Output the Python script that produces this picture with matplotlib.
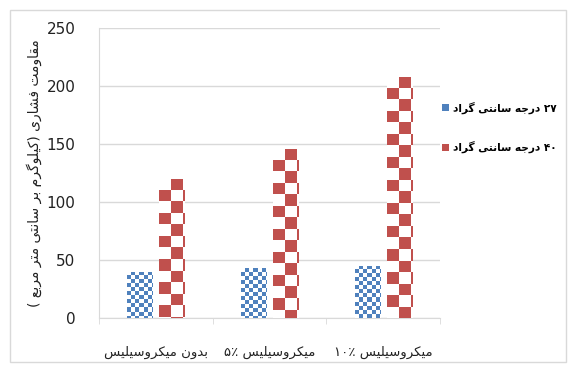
import re
import numpy as np
import matplotlib
matplotlib.use("Agg")
import matplotlib.pyplot as plt
from matplotlib.patches import Patch, Rectangle

categories = ["بدون میکروسیلیس", "میکروسیلیس ۵٪", "میکروسیلیس ۱۰٪"]
series_names = ["۲۷ درجه سانتی گراد", "۴۰ درجه سانتی گراد"]
temp_27 = [40, 43, 45]
temp_40 = [120, 146, 208]
y_label = "مقاومت فشاری (کیلوگرم بر سانتی متر مربع )"
y_ticks = [0, 50, 100, 150, 200, 250]

BLUE, RED = "#4F81BD", "#C0504D"
GRID = "#D9D9D9"

# matplotlib has no Arabic shaping: map letters to presentation forms
# (isolated, final, initial, medial) and lay the string out right-to-left.
FORMS = {
    "ا": ("\uFE8D", "\uFE8E", None, None),
    "د": ("\uFEA9", "\uFEAA", None, None),
    "ر": ("\uFEAD", "\uFEAE", None, None),
    "و": ("\uFEED", "\uFEEE", None, None),
    "ب": ("\uFE8F", "\uFE90", "\uFE91", "\uFE92"),
    "ت": ("\uFE95", "\uFE96", "\uFE97", "\uFE98"),
    "ج": ("\uFE9D", "\uFE9E", "\uFE9F", "\uFEA0"),
    "س": ("\uFEB1", "\uFEB2", "\uFEB3", "\uFEB4"),
    "ش": ("\uFEB5", "\uFEB6", "\uFEB7", "\uFEB8"),
    "ع": ("\uFEC9", "\uFECA", "\uFECB", "\uFECC"),
    "ف": ("\uFED1", "\uFED2", "\uFED3", "\uFED4"),
    "ق": ("\uFED5", "\uFED6", "\uFED7", "\uFED8"),
    "ل": ("\uFEDD", "\uFEDE", "\uFEDF", "\uFEE0"),
    "م": ("\uFEE1", "\uFEE2", "\uFEE3", "\uFEE4"),
    "ن": ("\uFEE5", "\uFEE6", "\uFEE7", "\uFEE8"),
    "ه": ("\uFEE9", "\uFEEA", "\uFEEB", "\uFEEC"),
    "ک": ("\uFB8E", "\uFB8F", "\uFB90", "\uFB91"),
    "گ": ("\uFB92", "\uFB93", "\uFB94", "\uFB95"),
    "ی": ("\uFBFC", "\uFBFD", "\uFBFE", "\uFBFF"),
}
MIRROR = {"(": ")", ")": "("}


def rtl(text):
    shaped = []
    for i, ch in enumerate(text):
        if ch not in FORMS:
            shaped.append(ch)
            continue
        iso, fin, ini, med = FORMS[ch]
        prev = text[i - 1] if i > 0 else ""
        nxt = text[i + 1] if i + 1 < len(text) else ""
        back = prev in FORMS and FORMS[prev][2] is not None
        fwd = ini is not None and nxt in FORMS
        if back and fwd:
            shaped.append(med)
        elif back:
            shaped.append(fin)
        elif fwd:
            shaped.append(ini)
        else:
            shaped.append(iso)
    tokens = re.findall(r"[۰-۹٪0-9%]+|.", "".join(shaped))
    return "".join(MIRROR.get(t, t) for t in reversed(tokens))


def checker(ax, bar, color, cell):
    # fill a bar with a checkerboard whose squares are `cell` pixels wide
    x0, w, h = bar.get_x(), bar.get_width(), bar.get_height()
    bb = ax.get_window_extent()
    px_x = bb.width / np.diff(ax.get_xlim())[0]
    px_y = bb.height / np.diff(ax.get_ylim())[0]
    nc = int(np.ceil(w * px_x / cell))
    nr = int(np.ceil(h * px_y / cell))
    i, j = np.indices((nr, nc))
    rgb = np.array(matplotlib.colors.to_rgb(color))
    img = np.ones((nr, nc, 3))
    img[(i + j) % 2 == 1] = rgb
    im = ax.imshow(img, extent=(x0, x0 + nc * cell / px_x, h - nr * cell / px_y, h),
                   aspect="auto", interpolation="nearest", zorder=3)
    im.set_clip_path(bar)


fig = plt.figure(figsize=(5.71, 3.68), dpi=100)
fig.patches.append(Rectangle((10 / 571, 6 / 368), 556 / 571, 352 / 368,
                             transform=fig.transFigure, fill=False,
                             edgecolor=GRID, lw=1))
ax = fig.add_axes([99 / 571, 1 - 318 / 368, 341 / 571, 290 / 368])

x = np.arange(len(categories))
w = 0.22
b1 = ax.bar(x - 0.14, temp_27, w, color="white", zorder=2)
b2 = ax.bar(x + 0.14, temp_40, w, color="white", zorder=2)
ax.set_xlim(-0.5, 2.5)
ax.set_ylim(0, 250)
for bar in b1:
    checker(ax, bar, BLUE, 4)
for bar in b2:
    checker(ax, bar, RED, 11.5)
ax.set_xlim(-0.5, 2.5)
ax.set_ylim(0, 250)

ax.set_yticks(y_ticks)
ax.set_xticks(x)
ax.set_xticklabels([rtl(c) for c in categories], fontsize=9.5, color="#222222")
ax.set_xticks([-0.5, 0.5, 1.5, 2.5], minor=True)
ax.tick_params(axis="x", which="major", length=0, pad=20)
ax.tick_params(axis="x", which="minor", length=4, color=GRID)
ax.tick_params(axis="y", length=0, pad=17, labelsize=11, labelcolor="#222222")
ax.grid(axis="y", color=GRID, lw=1, zorder=0)
ax.set_axisbelow(True)
for s in ["top", "right"]:
    ax.spines[s].set_visible(False)
for s in ["left", "bottom"]:
    ax.spines[s].set_color(GRID)
ax.set_ylabel(rtl(y_label), fontsize=10, color="#222222", labelpad=3)

handles = [Patch(facecolor=BLUE), Patch(facecolor=RED)]
fig.legend(handles, [rtl(s) for s in series_names], loc="upper left",
           bbox_to_anchor=(436 / 571, 1 - 95 / 368), frameon=False,
           handlelength=0.6, handleheight=0.6, handletextpad=0.4,
           labelspacing=2.6, borderaxespad=0.2,
           prop={"size": 7.6, "weight": "bold"})

fig.savefig("out.png", dpi=100)
